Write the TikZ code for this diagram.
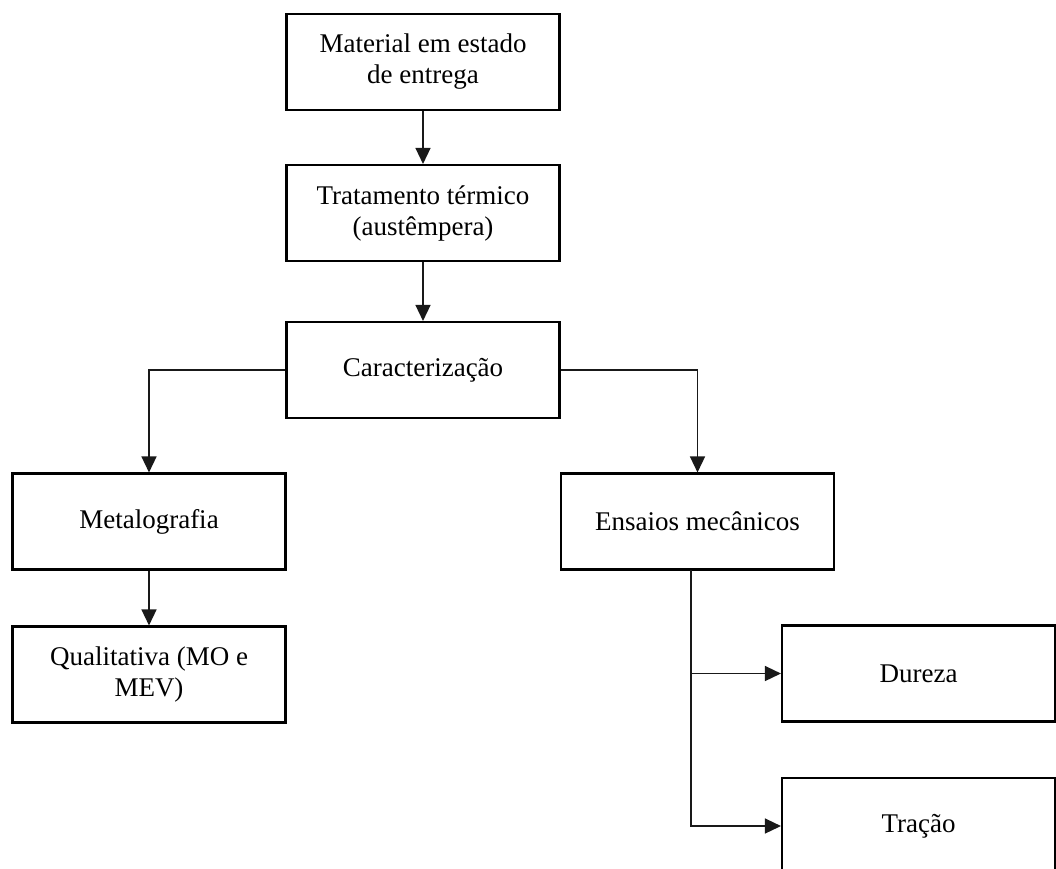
\documentclass[tikz,border=0pt]{standalone}
\usepackage{fontspec}
\setmainfont{Liberation Serif}
\usetikzlibrary{arrows.meta}
\begin{document}
\begin{tikzpicture}[x=1pt,y=-1pt,
  box/.style={draw=black,line width=2.1pt,minimum width=273pt,minimum height=96pt,inner sep=0pt,align=center,font=\fontsize{27}{31}\selectfont,text=black},
  conn/.style={line width=1.4pt,draw=black!90,-{Triangle[length=16pt,width=15pt]}}]
\useasboundingbox (0,0) rectangle (1056,868);
\node[box] (b1) at (423,62) {Material em estado\\de entrega};
\node[box] (b2) at (423,213) {Tratamento térmico\\(austêmpera)};
\node[box] (b3) at (423,370) {Caracterização};
\node[box] (b4) at (149,521.5) {Metalografia};
\node[box] (b5) at (149,674.5) {Qualitativa (MO e\\MEV)};
\node[box] (b6) at (697.5,521.5) {Ensaios mecânicos};
\node[box] (b7) at (918.5,673.5) {Dureza};
\node[box] (b8) at (918.5,826) {Tração};
\coordinate (j) at (691,570);
\draw[conn] (b1.south) -- (b2.north);
\draw[conn] (b2.south) -- (b3.north);
\draw[conn] (b3.west) -| (b4.north);
\draw[conn] (b3.east) -| (b6.north);
\draw[conn] (b4.south) -- (b5.north);
\draw[conn] (j) |- (b7.west);
\draw[conn] (j) |- (b8.west);
\end{tikzpicture}
\end{document}
